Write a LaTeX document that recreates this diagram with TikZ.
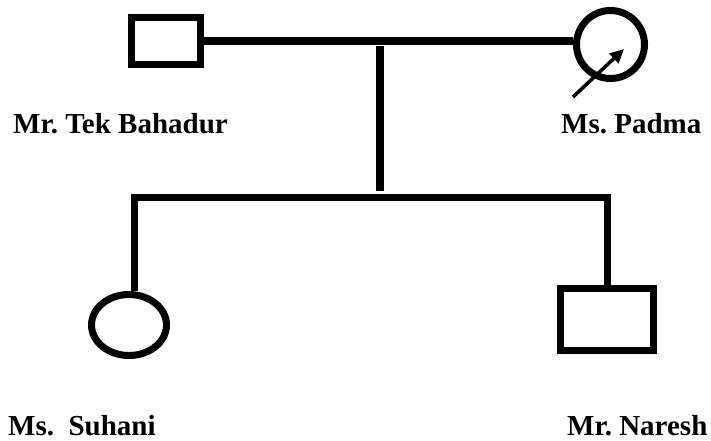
\documentclass[tikz,border=0pt]{standalone}
\usepackage{fontspec}
\setmainfont{Liberation Serif}
\usetikzlibrary{shapes.geometric,arrows.meta}
\begin{document}
\frenchspacing
\begin{tikzpicture}[x=1pt,y=-1pt,
  male/.style={draw,line width=7pt,rectangle,inner sep=0pt},
  female/.style={draw,line width=7pt,inner sep=0pt},
  link/.style={line width=7.5pt,line join=miter},
  lbl/.style={anchor=base west,inner sep=0pt,font=\fontsize{29}{29}\selectfont\bfseries\frenchspacing}]
\useasboundingbox (0,0) rectangle (711,441);
\node[male,minimum width=69pt,minimum height=47pt] (tek) at (166,41) {};
\node[female,circle,minimum size=68pt] (padma) at (610.5,44.5) {};
\node[female,ellipse,minimum width=75pt,minimum height=61pt] (suhani) at (129,325) {};
\node[male,minimum width=93pt,minimum height=62pt] (naresh) at (607,319.5) {};
\node[lbl] (ltek) at (13,133) {Mr. Tek Bahadur};
\node[lbl] (lpadma) at (561,133) {Ms. Padma};
\node[lbl] (lsuhani) at (8,435) {Ms.\ \ Suhani};
\node[lbl] (lnaresh) at (567,435) {Mr. Naresh};
\coordinate (mt) at (380,46);
\coordinate (mb) at (380,191);
\coordinate (bl) at (134.5,197.5);
\coordinate (br) at (607.5,197.5);
\coordinate (as) at (573,97);
\coordinate (ae) at (624,49);
\draw[link] (tek.east) -- (tek.east -| padma.west);
\draw[link] (mt) -- (mb);
\draw[link] (bl |- suhani.north) -- (bl) -- (br) -- (br |- naresh.north);
\draw[line width=3.5pt,-{Triangle[length=14pt,width=13pt]}] (as) -- (ae);
\end{tikzpicture}
\end{document}
